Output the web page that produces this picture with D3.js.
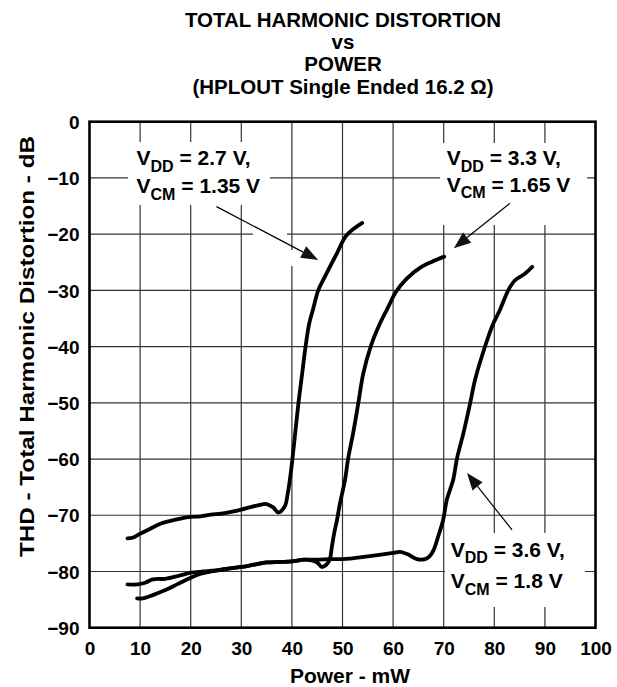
<!DOCTYPE html>
<html>
<head>
<meta charset="utf-8">
<script src="https://cdn.jsdelivr.net/npm/d3@7"></script>
<style>
  html, body { margin: 0; padding: 0; background: #fff; }
  svg { display: block; font-family: "Liberation Sans", Arial, Helvetica, sans-serif; font-weight: bold; }
</style>
</head>
<body>
<svg id="chart" width="617" height="687"></svg>
<script>
// ---- Data ----
const titleLines = ["TOTAL HARMONIC DISTORTION", "vs", "POWER", "(HPLOUT Single Ended 16.2 \u03A9)"];
const xTicks = [0, 10, 20, 30, 40, 50, 60, 70, 80, 90, 100];
const yTicks = [0, -10, -20, -30, -40, -50, -60, -70, -80, -90];
const xLabel = "Power - mW";
const yLabel = "THD - Total Harmonic Distortion - dB";

// VDD = 2.7 V, VCM = 1.35 V
const p27 = [7.5, 8.5, 10, 12, 14, 16, 18, 20, 22, 24, 26, 28, 30, 32, 33.5, 35, 36.3, 37.3, 38.6, 39.2, 39.7, 40.1, 40.7, 41.3, 42.0, 42.7, 43.4, 44.2, 45.2, 46.5, 48.9, 50.8, 53.9];
const t27 = [-74.1, -74.0, -73.3, -72.4, -71.5, -71.0, -70.6, -70.3, -70.2, -69.9, -69.7, -69.4, -69.0, -68.5, -68.2, -68.0, -68.6, -69.5, -68.4, -66.0, -63.0, -60.0, -55.0, -50.0, -45.0, -40.0, -36.0, -33.3, -30.0, -27.6, -23.4, -20.2, -18.0];

// VDD = 3.3 V, VCM = 1.65 V
const p33 = [7.5, 9.5, 11, 12.5, 15, 17.5, 20, 22.5, 25, 27.5, 30, 32.5, 35, 37.5, 40, 42.5, 45, 45.9, 46.8, 47.5, 47.9, 48.4, 48.9, 49.5, 50.5, 51.1, 52.1, 53.1, 54.1, 55.6, 57.4, 58.9, 60.6, 62.7, 65.3, 67.7, 70.1];
const t33 = [-82.3, -82.3, -82.0, -81.4, -81.3, -80.8, -80.2, -80.0, -79.8, -79.5, -79.2, -78.8, -78.4, -78.3, -78.2, -77.9, -78.4, -79.2, -78.8, -77.8, -75.6, -73.0, -70.9, -67.9, -63.7, -60.0, -55.4, -50.2, -44.8, -39.9, -35.9, -33.2, -30.2, -27.9, -26.0, -24.9, -24.0];

// VDD = 3.6 V, VCM = 1.8 V
const p36 = [9.4, 10.5, 12.5, 15, 17.5, 20, 22, 24, 26, 28, 30, 32.5, 35, 37.5, 40, 42.5, 45, 47.5, 50, 55, 60, 61.4, 63, 64.7, 66.3, 67.2, 68, 68.9, 69.9, 70.6, 71.9, 72.6, 73.9, 75.2, 76.2, 78.2, 79.8, 81.1, 82.8, 84.1, 86.1, 87.5];
const t36 = [-84.8, -84.8, -84.2, -83.3, -82.2, -81.1, -80.4, -80.0, -79.7, -79.4, -79.2, -78.8, -78.4, -78.3, -78.2, -77.9, -77.9, -77.8, -77.8, -77.3, -76.7, -76.5, -77.0, -77.8, -77.8, -77.3, -76.2, -73.8, -70.8, -67.3, -63.6, -60.0, -55.4, -50.2, -45.9, -39.9, -35.9, -33.5, -29.9, -28.2, -27.0, -25.8];

const series = [
  { x: p27, y: t27 },
  { x: p33, y: t33 },
  { x: p36, y: t36 }
];

// ---- Layout ----
const svg = d3.select("#chart");
const X0 = 89.5, X1 = 595.5, Y0 = 121.7, Y1 = 627.7;
const x = d3.scaleLinear().domain([0, 100]).range([X0, X1]);
const y = d3.scaleLinear().domain([-90, 0]).range([Y1, Y0]);

// Title
const titleBaselines = [27, 49, 70.5, 93.5];
svg.append("g").attr("fill", "#000").selectAll("text").data(titleLines).join("text")
  .attr("x", 343).attr("y", (d, i) => titleBaselines[i])
  .attr("text-anchor", "middle").attr("font-size", 20.5).text(d => d);

// Grid
const grid = svg.append("g").attr("stroke", "#333").attr("stroke-width", 1.2);
grid.selectAll("line.v").data(xTicks.slice(1, -1)).join("line")
  .attr("x1", d => x(d)).attr("x2", d => x(d)).attr("y1", Y0).attr("y2", Y1);
grid.selectAll("line.h").data(yTicks.slice(1, -1)).join("line")
  .attr("y1", d => y(d)).attr("y2", d => y(d)).attr("x1", X0).attr("x2", X1);

// White boxes behind annotations (break grid lines)
const boxes = [
  [128, 142, 142, 63],
  [440, 143, 147, 82],
  [445, 533, 140, 74],
  [253, 232, 34, 6],
  [288, 250, 8, 16]
];
svg.append("g").selectAll("rect").data(boxes).join("rect")
  .attr("x", d => d[0]).attr("y", d => d[1]).attr("width", d => d[2]).attr("height", d => d[3])
  .attr("fill", "#fff");

// Curves
const line = d3.line().x(d => x(d[0])).y(d => y(d[1])).curve(d3.curveCatmullRom.alpha(0.5));
svg.append("g").selectAll("path").data(series).join("path")
  .attr("d", s => line(s.x.map((v, i) => [v, s.y[i]])))
  .attr("fill", "none").attr("stroke", "#000").attr("stroke-width", 3.8)
  .attr("stroke-linejoin", "round").attr("stroke-linecap", "round");

// Frame
svg.append("rect").attr("x", X0).attr("y", Y0).attr("width", X1 - X0).attr("height", Y1 - Y0)
  .attr("fill", "none").attr("stroke", "#000").attr("stroke-width", 2.6);

// Axes tick labels
const xAxis = d3.axisBottom(x).tickValues(xTicks).tickSize(0).tickPadding(0);
const gx = svg.append("g").attr("transform", `translate(0,${Y1})`).call(xAxis);
gx.select(".domain").remove();
gx.selectAll("text").attr("font-size", 19).attr("font-family", null).attr("fill", "#000")
  .attr("dy", null).attr("y", 27.5);

const yAxis = d3.axisLeft(y).tickValues(yTicks).tickSize(0).tickPadding(0);
const gy = svg.append("g").attr("transform", `translate(${X0 - 10},0)`).call(yAxis);
gy.select(".domain").remove();
gy.selectAll("text").attr("font-size", 19).attr("font-family", null).attr("fill", "#000")
  .attr("dy", "0.35em").attr("x", 0);

// Axis titles
svg.append("text").attr("x", 350).attr("y", 683).attr("text-anchor", "middle")
  .attr("font-size", 21).text(xLabel);
svg.append("text").attr("transform", "translate(34,346.5) rotate(-90)").attr("text-anchor", "middle")
  .attr("font-size", 20).attr("textLength", 421).attr("lengthAdjust", "spacingAndGlyphs").text(yLabel);

// Annotations
function annot(px, py1, py2, vdd, vcm) {
  const g = svg.append("g").attr("font-size", 21).attr("fill", "#000");
  const t1 = g.append("text").attr("x", px).attr("y", py1);
  t1.append("tspan").text("V");
  t1.append("tspan").attr("font-size", 16).attr("dy", 6.5).text("DD");
  t1.append("tspan").attr("dy", -6.5).text(" = " + vdd);
  const t2 = g.append("text").attr("x", px).attr("y", py2);
  t2.append("tspan").text("V");
  t2.append("tspan").attr("font-size", 16).attr("dy", 6.5).text("CM");
  t2.append("tspan").attr("dy", -6.5).text(vcm);
}
annot(x(9.3), y(-7.75), y(-12.7), "2.7 V,", " =  1.35 V");
annot(x(70.6), y(-7.75), y(-12.45), "3.3 V,", " = 1.65 V");
annot(x(71.4), y(-77.4), y(-83.0), "3.6 V,", " = 1.8 V");

// Arrows: [from, tip] in data units
const arrows = [
  [[25.1, -15.1], [45.2, -24.6]],
  [[83.1, -14.5], [72.0, -22.5]],
  [[83.5, -72.6], [74.6, -62.5]]
];
const ag = svg.append("g");
arrows.forEach(a => {
  const x1 = x(a[0][0]), y1 = y(a[0][1]), x2 = x(a[1][0]), y2 = y(a[1][1]);
  const ang = Math.atan2(y2 - y1, x2 - x1);
  const L = 17, W = 6.5;
  const bx = x2 - L * Math.cos(ang), by = y2 - L * Math.sin(ang);
  ag.append("line").attr("x1", x1).attr("y1", y1).attr("x2", bx).attr("y2", by)
    .attr("stroke", "#000").attr("stroke-width", 1.2);
  const px = -Math.sin(ang), py = Math.cos(ang);
  ag.append("path").attr("d", `M${x2},${y2}L${bx + W * px},${by + W * py}L${bx - W * px},${by - W * py}Z`)
    .attr("fill", "#111");
});
</script>
</body>
</html>
